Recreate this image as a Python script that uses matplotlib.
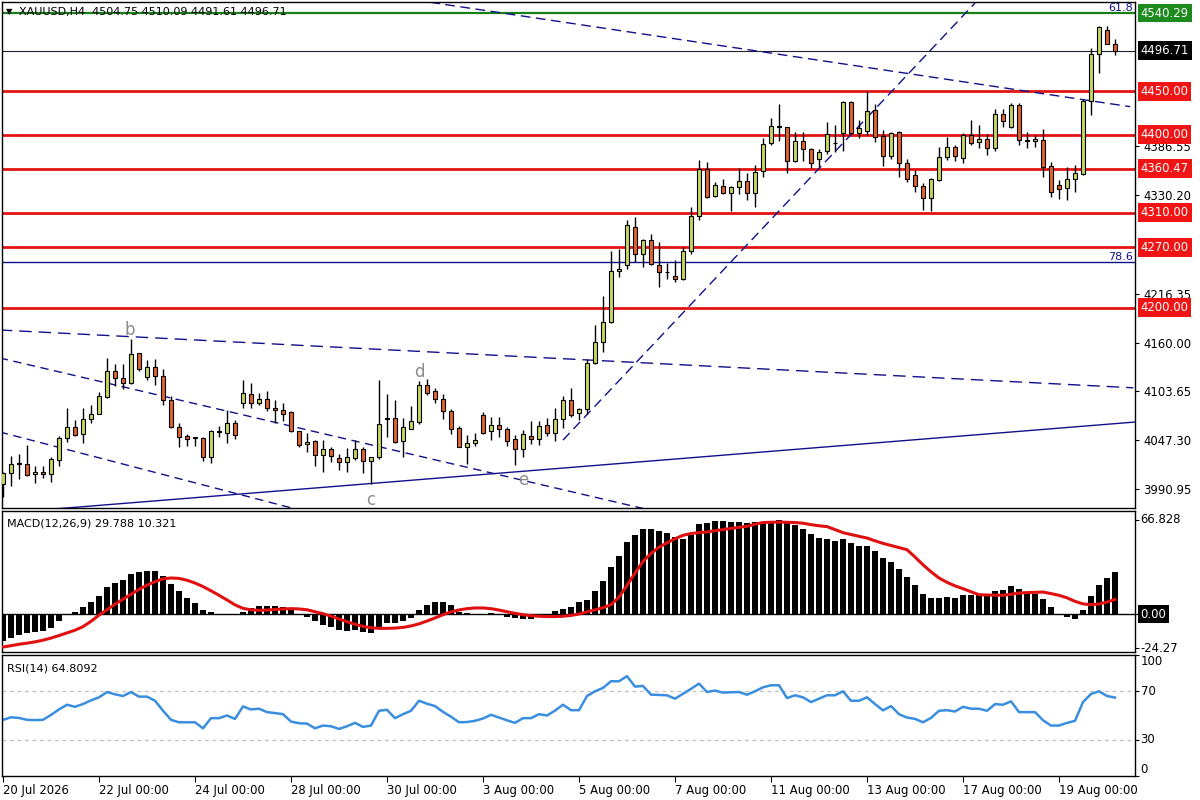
import numpy as np
import matplotlib.pyplot as plt
from matplotlib.transforms import blended_transform_factory

# XAUUSD H4 candles, 20 Jul 2026 -> 20 Aug 2026 (140 bars)
opens = [
    3997, 4009, 4020, 4020, 4008.3, 4010.6, 4008, 4025, 4050, 4062.9,
    4054.4, 4071.4, 4077.9, 4097.5, 4126.8, 4118.7, 4112.9, 4147.5, 4119.8, 4132.1,
    4121.4, 4093.7, 4062.1, 4052.1, 4050.6, 4049.8, 4027.5, 4056.7, 4056, 4066.7,
    4089.8, 4100.6, 4089.8, 4095.2, 4084.4, 4082.1, 4080.2, 4057.5, 4042.9, 4046,
    4029.8, 4037.5, 4026.4, 4022.1, 4026.7, 4037.5, 4022.9, 4027.5, 4072.1, 4072.5,
    4046, 4060.6, 4068.7, 4111, 4103.7, 4094.5, 4080.6, 4061, 4039.8, 4043.7,
    4076, 4057.5, 4064.4, 4059.8, 4048.3, 4036.8, 4052.1, 4049, 4064.4, 4055.2,
    4071.4, 4093.7, 4078.3, 4082.9, 4136, 4160.2, 4183.3, 4242.2, 4249.1, 4293.7,
    4262.2, 4278.3, 4249.9, 4241, 4236.4, 4232.9, 4265.3, 4306, 4359.9, 4329.1,
    4340.6, 4332.2, 4339.9, 4346, 4332.2, 4357.6, 4389.9, 4409.1, 4408.3, 4369.1,
    4392.2, 4383, 4372.2, 4380.6, 4390, 4401.4, 4437.6, 4401.4, 4404.5, 4428.3,
    4398.4, 4375.3, 4403, 4366.8, 4352.9, 4340.6, 4326.4, 4347.6, 4374.5, 4386,
    4372.6, 4399.5, 4391.4, 4394.5, 4384.1, 4423.3, 4409.1, 4434.5, 4393.7, 4393,
    4393.7, 4363.7, 4341.8, 4338, 4348.3, 4354.5, 4439.1, 4493, 4520.7, 4504.75]
highs = [
    4011, 4029, 4031, 4042, 4018, 4018, 4028, 4052, 4084, 4071,
    4084, 4088, 4103, 4142, 4135, 4135, 4164, 4148, 4140, 4141,
    4130, 4098, 4067, 4055, 4051, 4051, 4059, 4064, 4082, 4071,
    4117, 4113, 4102, 4104, 4094, 4090, 4081, 4058, 4056, 4047,
    4048, 4039, 4031, 4038, 4048, 4039, 4028, 4117, 4101, 4094,
    4073, 4087, 4116, 4118, 4108, 4101, 4083, 4064, 4053, 4056,
    4080, 4074, 4074, 4063, 4053, 4059, 4069, 4069, 4073, 4084,
    4098, 4107, 4084, 4141, 4180, 4214, 4266, 4268, 4301, 4305,
    4280, 4285, 4276, 4252, 4255, 4270, 4317, 4371, 4368, 4345,
    4349, 4341, 4362, 4356, 4365, 4396, 4419, 4435, 4409, 4403,
    4403, 4385, 4383, 4415, 4411, 4439, 4439, 4417, 4450, 4435,
    4405, 4403, 4404, 4372, 4359, 4344, 4350, 4386, 4397, 4388,
    4402, 4417, 4411, 4401, 4429, 4430, 4436, 4436, 4403, 4400,
    4407, 4368, 4348, 4363, 4365, 4441, 4500, 4525, 4525, 4510.09]
lows = [
    3982, 3995, 4002, 4006, 3998, 4004, 3999, 4018, 4045, 4052,
    4044, 4067, 4077, 4096, 4110, 4106, 4112, 4127, 4117, 4111,
    4088, 4061, 4040, 4041, 4041, 4023, 4021, 4051, 4044, 4049,
    4084, 4084, 4088, 4081, 4067, 4070, 4057, 4040, 4034, 4017,
    4011, 4022, 4013, 4011, 4024, 4009, 3997, 4026, 4051, 4044,
    4028, 4060, 4066, 4100, 4090, 4072, 4054, 4039, 4020, 4041,
    4054, 4047, 4051, 4041, 4019, 4028, 4043, 4042, 4052, 4046,
    4061, 4074, 4071, 4078, 4135, 4149, 4183, 4236, 4245, 4253,
    4247, 4250, 4224, 4233, 4230, 4232, 4262, 4301, 4327, 4328,
    4331, 4312, 4332, 4325, 4316, 4351, 4388, 4393, 4356, 4368,
    4369, 4361, 4363, 4378, 4380, 4381, 4401, 4396, 4400, 4391,
    4364, 4372, 4351, 4345, 4334, 4313, 4312, 4346, 4371, 4370,
    4367, 4388, 4385, 4377, 4381, 4409, 4408, 4388, 4385, 4386,
    4351, 4328, 4326, 4324, 4334, 4353, 4423, 4471, 4504, 4491.61]
closes = [
    4009, 4019.8, 4020.5, 4007.5, 4010.6, 4007.9, 4025.2, 4049.8, 4062.1, 4053.7,
    4071.4, 4077.1, 4097.9, 4126.8, 4118.7, 4112.9, 4146.8, 4129.1, 4132.1, 4121.4,
    4093.7, 4062.1, 4051.4, 4048.3, 4049.8, 4027.5, 4057.5, 4057.5, 4066.7, 4052.9,
    4101.4, 4089.8, 4095.2, 4084.1, 4081.7, 4077.5, 4057.5, 4042.1, 4045.2, 4029.8,
    4037.5, 4029.1, 4022.1, 4027.5, 4037.5, 4022.9, 4027.5, 4065.6, 4071.7, 4045.6,
    4062.1, 4069.1, 4111, 4101.4, 4094.5, 4080.6, 4060.6, 4039.8, 4043.7, 4047.5,
    4056, 4064.4, 4059.8, 4046.7, 4036.8, 4054.4, 4049, 4063.7, 4055.2, 4071.4,
    4093.7, 4076.3, 4082.9, 4136, 4160.2, 4183.3, 4242.2, 4245.2, 4295.3, 4262.2,
    4278.3, 4250.6, 4241.4, 4241.3, 4232.9, 4265.3, 4306, 4360.6, 4328.3, 4341.4,
    4332.2, 4339.1, 4346.8, 4332.2, 4356.8, 4389.1, 4409.9, 4409.5, 4369.1, 4392.2,
    4383, 4367.6, 4380.2, 4400.6, 4390.5, 4437.6, 4401.4, 4407.2, 4426.8, 4397.6,
    4375.3, 4402.2, 4366.8, 4348.3, 4340.6, 4326.4, 4349.1, 4373.7, 4385.3, 4375.3,
    4399.5, 4390.6, 4394.5, 4384.1, 4423.3, 4415.6, 4434.5, 4393.7, 4393, 4395.2,
    4362.9, 4334.1, 4337.2, 4348.3, 4356, 4439.1, 4493, 4523.8, 4504.5, 4496.71]

macd_main = [
    -19, -17, -14.7, -13.7, -12.8, -11.8, -10, -5.2, -1, 1.4,
    5.2, 8.5, 12.8, 19, 21.8, 24.4, 28.4, 29.9, 30.8, 30.8,
    27, 21.3, 16.6, 11.4, 7.6, 2.8, 1.2, 0.3, 0.2, -0.9,
    1.4, 4.3, 5.7, 5.7, 5.7, 5.2, 2.8, -0.3, -2.4, -5.2,
    -7.6, -9.5, -11.4, -12.3, -11.4, -12.8, -13.3, -9, -6.6, -6.2,
    -4.7, -2.8, 2.8, 6.2, 8.5, 8.5, 6.2, 1.4, 0.5, 0.2,
    -0.9, 0.5, 0.2, -1.9, -2.8, -3.3, -3.8, -1.9, -0.9, 2.4,
    3.3, 4.7, 8.5, 10, 16.4, 23.7, 33.2, 41.2, 51.2, 55.9,
    60.2, 60.2, 58.8, 57.6, 54.5, 53.6, 56.4, 64, 65, 65.8,
    65.8, 65.5, 65.5, 65, 65.3, 65.7, 66.2, 66.828, 64.5, 63,
    60.7, 56.9, 54, 53.1, 52.1, 53.1, 50.2, 48.3, 48.3, 45,
    39.8, 37, 31.8, 26.1, 20.4, 14.2, 11.4, 11.4, 11.8, 11.4,
    13.7, 13.7, 13.3, 13.3, 16.6, 17.1, 19.9, 18, 14.2, 14.2,
    10.9, 5.2, 0, -2.4, -3.3, 2.8, 12.8, 20.5, 25.5, 29.788]
macd_signal = [
    -23.5, -22.5, -21.5, -20.7, -19.8, -18.6, -17.1, -15.3, -13.4, -11.5,
    -9, -5.2, -0.8, 3, 7, 10.5, 14, 17.5, 20.5, 23,
    25, 25.6, 25.3, 24, 22, 19.5, 16.5, 13.3, 10, 6.5,
    4, 3, 2.6, 2.8, 3.2, 3.6, 3.8, 3.6, 3, 1.6,
    0.2, -1.5, -3.5, -5.5, -7.3, -8.8, -9.8, -10.2, -10.2, -10,
    -9.5, -8.5, -7, -5, -2.8, -0.5, 1.5, 2.9, 3.8, 4.3,
    4.3, 3.8, 2.8, 1.6, 0.5, -0.5, -1.2, -1.6, -1.8, -1.8,
    -1.6, -1, 0, 1.5, 3, 4.5, 6.6, 12, 20.4, 29,
    37.4, 43, 47.5, 50.5, 53.5, 55.9, 57.2, 57.8, 58.3, 59.2,
    60, 60.8, 61.6, 62.3, 63.8, 65, 65.2, 65.3, 65.2, 65,
    64.5, 63.5, 62.7, 62.1, 60, 57.8, 56.5, 55.2, 54, 52,
    50.2, 48.7, 47.2, 45.7, 40.5, 35, 30, 25.6, 22.5, 20,
    18, 15.8, 13.7, 13.5, 13.4, 13.3, 14, 14.9, 15.2, 15.4,
    15.6, 14.5, 13.3, 11.5, 9, 7.2, 6.6, 7.1, 8.5, 10.321]
rsi = [
    46.4, 48.5, 48, 46.4, 46.2, 46.4, 50.5, 55, 58.9, 57.2,
    59.5, 62.5, 65, 69.4, 67.5, 66.1, 69.4, 65.6, 65.6, 62.2,
    54, 46.4, 44.4, 44.4, 44.4, 39.4, 47.8, 47.8, 50, 47.2,
    57.5, 55, 55.6, 52.8, 52, 51.1, 45, 43.6, 43.3, 39.4,
    41.7, 41.1, 38.9, 41.1, 43.9, 40.6, 41.7, 53.9, 54.7, 47.8,
    51.1, 53.9, 62.2, 59.7, 57.8, 53, 49, 44.4, 44.6, 45.6,
    47.5, 50.6, 48.3, 46, 43.9, 47.8, 47.8, 51.1, 50, 54,
    58.9, 54.4, 54.4, 66.1, 70, 72.8, 78.3, 78.3, 82.5, 73.9,
    74.4, 67.2, 67, 66.7, 63.9, 68, 72, 76.4, 69.4, 70.6,
    68.9, 69.2, 69.4, 67.2, 70, 73.3, 75, 75, 64.4, 66.7,
    65, 61.1, 63.9, 66.7, 66.7, 70, 62.2, 62.2, 65, 59.5,
    54.2, 57.8, 51.1, 48.3, 47.2, 44.4, 48, 53.9, 54.4, 53.3,
    57.2, 55.6, 55.6, 53.9, 59.4, 58.9, 61.7, 52.8, 52.8, 52.8,
    46.1, 41.7, 41.7, 43.9, 45.6, 61.1, 67.8, 70, 66.1, 64.8092]

# levels drawn on the chart
red_levels = [4450.00, 4400.00, 4360.47, 4310.00, 4270.00, 4200.00]
fib_618 = 4540.29
fib_786 = 4252.9
last_price = 4496.71
price_ticks = [3990.95, 4047.30, 4103.65, 4160.00, 4216.35, 4330.20, 4386.55]

date_ticks = [0, 12, 24, 36, 48, 60, 72, 84, 96, 108, 120, 132]
date_labels = ["20 Jul 2026", "22 Jul 00:00", "24 Jul 00:00", "28 Jul 00:00",
               "30 Jul 00:00", "3 Aug 00:00", "5 Aug 00:00", "7 Aug 00:00",
               "11 Aug 00:00", "13 Aug 00:00", "17 Aug 00:00", "19 Aug 00:00"]

# trend lines: (bar, price) -> (bar, price), dash pattern
trend_lines = [
    ((51.5, 4555.3), (140.9, 4432.2), (7, 4)),
    ((70.0, 4047.5), (121.5, 4551.8), (7, 4)),
    ((-0.4, 4174.5), (141.3, 4107.8), (9, 5)),
    ((-0.4, 4142.2), (90.0, 3947.0), (6, 4)),
    ((-0.4, 4056.8), (37.1, 3966.7), (6, 4)),
    ((0.0, 3963.2), (141.5, 4068.3), None),
]
wave_labels = [("b", 15.9, 4174.5), ("c", 46, 3978.3), ("d", 52, 4126.0), ("e", 65, 4001.4)]

o = np.array(opens)
h = np.array(highs)
l = np.array(lows)
c = np.array(closes)
x = np.arange(len(o))

navy = "#10108a"
bull = "#c6d75c"
bear = "#e2642c"
label_size = 8.4

fig = plt.figure(figsize=(12, 8), dpi=100)
ax = fig.add_axes([2 / 1200, 1 - 508 / 800, 1133 / 1200, 506 / 800])
axm = fig.add_axes([2 / 1200, 1 - 652 / 800, 1133 / 1200, 141 / 800], sharex=ax)
axr = fig.add_axes([2 / 1200, 1 - 776 / 800, 1133 / 1200, 121 / 800], sharex=ax)

# --- price panel
ax.set_xlim(-0.125, 141.5)
ax.set_ylim(3969.1, 4553.0)

for lv in red_levels:
    ax.axhline(lv, color="#e41414", lw=2, zorder=1)
ax.axhline(fib_618, color="#168216", lw=1.6, zorder=1)
ax.axhline(fib_786, color=navy, lw=1, zorder=1)
ax.axhline(last_price, color="#202030", lw=0.8, zorder=1)

for (x0, y0), (x1, y1), dash in trend_lines:
    if dash is None:
        ax.plot([x0, x1], [y0, y1], color=navy, lw=1, zorder=1)
    else:
        ax.plot([x0, x1], [y0, y1], color=navy, lw=1, dashes=dash, zorder=1)

ax.vlines(x, l, h, color="black", lw=1, zorder=2)
body_col = [bull if cc > oo else bear for oo, cc in zip(o, c)]
body_col = ["black" if abs(cc - oo) < 1 else col for oo, cc, col in zip(o, c, body_col)]
heights = np.maximum(np.abs(c - o), 0.8)
ax.bar(x, heights, bottom=np.minimum(o, c), width=0.62, color=body_col,
       edgecolor="black", linewidth=0.8, zorder=3)

for txt, bx, by in wave_labels:
    ax.text(bx, by, txt, color="#8c8c8c", fontsize=12, ha="center", va="center")

ax.text(141.3, fib_618, "61.8", color=navy, fontsize=8, ha="right", va="bottom")
ax.text(141.3, fib_786, "78.6", color=navy, fontsize=8, ha="right", va="bottom")

ax.yaxis.tick_right()
ax.set_yticks(price_ticks)
ax.set_yticklabels([f"{v:.2f}" for v in price_ticks])
ax.tick_params(axis="y", direction="out", length=3, pad=3, labelsize=label_size)
ax.tick_params(axis="x", bottom=False, labelbottom=False)


def price_tag(axis, y, text, bg, fg="white"):
    tr = blended_transform_factory(axis.transAxes, axis.transData)
    axis.annotate(text, xy=(1, y), xycoords=tr, xytext=(4, 0), textcoords="offset points",
                  ha="left", va="center", fontsize=label_size, color=fg, annotation_clip=False,
                  bbox=dict(boxstyle="square,pad=0.25", fc=bg, ec="none"))


def side_label(axis, y, text, va="center"):
    tr = blended_transform_factory(axis.transAxes, axis.transData)
    axis.annotate(text, xy=(1, y), xycoords=tr, xytext=(4, 0), textcoords="offset points",
                  ha="left", va=va, fontsize=label_size, annotation_clip=False)


price_tag(ax, fib_618, f"{fib_618:.2f}", "#1c8a1c")
price_tag(ax, last_price, f"{last_price:.2f}", "black")
for lv in red_levels:
    price_tag(ax, lv, f"{lv:.2f}", "#f01414")

fig.text(6 / 1200, 1 - 12 / 800, "\u25bc", fontsize=6, va="center")
fig.text(19 / 1200, 1 - 12 / 800, "XAUUSD,H4  4504.75 4510.09 4491.61 4496.71",
         fontsize=8, va="center")

# --- MACD panel
axm.set_ylim(-27.0, 73.2)
axm.bar(x, macd_main, width=0.72, color="black", zorder=2)
axm.plot(x, macd_signal, color="#e01010", lw=2.2, zorder=3)
axm.axhline(0, color="black", lw=1, zorder=1)
axm.text(0.004, 0.95, "MACD(12,26,9) 29.788 10.321", transform=axm.transAxes,
         fontsize=8, va="top")
axm.yaxis.tick_right()
axm.set_yticks([66.828, 0, -24.27])
axm.set_yticklabels([])
axm.tick_params(axis="y", direction="out", length=3)
axm.tick_params(axis="x", bottom=False, labelbottom=False)
side_label(axm, 66.828, "66.828")
side_label(axm, -24.27, "-24.27")
price_tag(axm, 0, "0.00", "black")

# --- RSI panel
axr.set_ylim(0, 100)
axr.axhline(70, color="#c0c0c0", lw=0.9, dashes=(3, 3))
axr.axhline(30, color="#c0c0c0", lw=0.9, dashes=(3, 3))
axr.plot(x, rsi, color="#3a8ee0", lw=1.8)
axr.text(0.004, 0.93, "RSI(14) 64.8092", transform=axr.transAxes, fontsize=8, va="top")
axr.yaxis.tick_right()
axr.set_yticks([100, 70, 30, 0])
axr.set_yticklabels([])
axr.tick_params(axis="y", direction="out", length=3)
for val, va in [(100, "top"), (70, "center"), (30, "center"), (0, "bottom")]:
    side_label(axr, val, str(val), va=va)

axr.set_xticks(date_ticks)
axr.set_xticklabels(date_labels)
axr.tick_params(axis="x", direction="out", length=4, labelsize=label_size, pad=2)
for lbl in axr.get_xticklabels():
    lbl.set_ha("left")

for a in (ax, axm, axr):
    for sp in a.spines.values():
        sp.set_color("black")
        sp.set_linewidth(1)

fig.savefig("out.png", dpi=100, facecolor="white")
